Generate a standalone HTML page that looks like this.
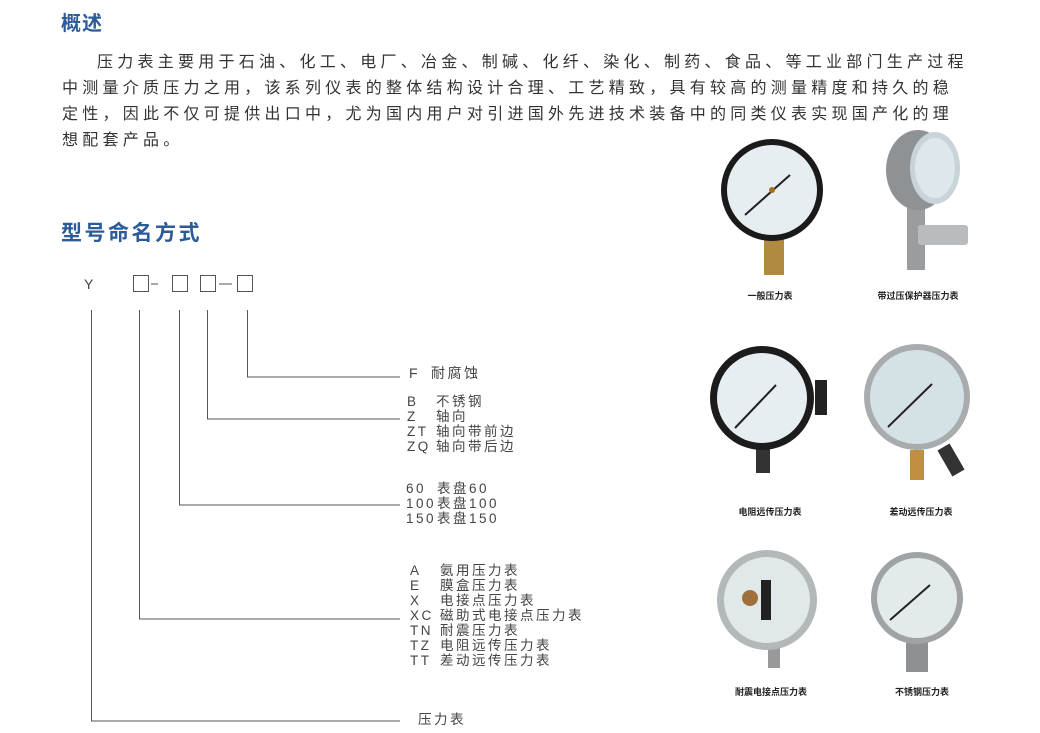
<!DOCTYPE html>
<html><head><meta charset="utf-8"><style>
html,body{margin:0;padding:0;background:#fff;}
body{width:1040px;height:733px;position:relative;overflow:hidden;font-family:"Liberation Sans","Noto Sans CJK SC",sans-serif;}
.h{position:absolute;color:#2b5c99;font-weight:bold;font-family:"Noto Sans CJK SC",sans-serif;}
.p{position:absolute;left:62px;font-size:16px;letter-spacing:4.25px;color:#333;white-space:nowrap;line-height:20px;font-family:"Noto Sans CJK SC",sans-serif;}
svg{position:absolute;left:0;top:0;}
</style></head><body>
<div class="h" style="left:61px;top:7px;font-size:20px;letter-spacing:1px;">概述</div>
<div class="p" style="top:50px;left:97px;">压力表主要用于石油、化工、电厂、冶金、制碱、化纤、染化、制药、食品、等工业部门生产过程</div>
<div class="p" style="top:76px;">中测量介质压力之用，该系列仪表的整体结构设计合理、工艺精致，具有较高的测量精度和持久的稳</div>
<div class="p" style="top:102px;">定性，因此不仅可提供出口中，尤为国内用户对引进国外先进技术装备中的同类仪表实现国产化的理</div>
<div class="p" style="top:128px;">想配套产品。</div>
<div class="h" style="left:61px;top:217px;font-size:21px;letter-spacing:2.5px;">型号命名方式</div>

<svg width="1040" height="733" viewBox="0 0 1040 733">
<g font-family="Liberation Sans, Noto Sans CJK SC, sans-serif" font-size="14" fill="#444">
<text x="84" y="289">Y</text>
<g fill="none" stroke="#555" stroke-width="1">
<rect x="133.5" y="275.5" width="15" height="16"/>
<rect x="172.5" y="275.5" width="15" height="16"/>
<rect x="200.5" y="275.5" width="15" height="16"/>
<rect x="237.5" y="275.5" width="15" height="16"/>
<line x1="151" y1="284" x2="158" y2="284"/>
<line x1="219" y1="284" x2="232" y2="284"/>
<polyline points="91.5,310 91.5,721 400,721"/>
<polyline points="139.5,310 139.5,619 400,619"/>
<polyline points="179.5,310 179.5,505 400,505"/>
<polyline points="207.5,310 207.5,419 400,419"/>
<polyline points="247.5,310 247.5,377 400,377"/>
</g>
<g letter-spacing="2.5">
<text x="409" y="378">F</text><text x="431" y="378">耐腐蚀</text>
<g font-size="13.5">
<text x="407" y="406">B</text><text x="436" y="406">不锈钢</text>
<text x="407" y="421">Z</text><text x="436" y="421">轴向</text>
<text x="407" y="436">ZT</text><text x="436" y="436">轴向带前边</text>
<text x="407" y="451">ZQ</text><text x="436" y="451">轴向带后边</text>
<text x="406" y="493">60</text><text x="437" y="493">表盘60</text>
<text x="406" y="508">100</text><text x="437" y="508">表盘100</text>
<text x="406" y="523">150</text><text x="437" y="523">表盘150</text>
<text x="410" y="575">A</text><text x="440" y="575">氨用压力表</text>
<text x="410" y="590">E</text><text x="440" y="590">膜盒压力表</text>
<text x="410" y="605">X</text><text x="440" y="605">电接点压力表</text>
<text x="410" y="620">XC</text><text x="440" y="620">磁助式电接点压力表</text>
<text x="410" y="635">TN</text><text x="440" y="635">耐震压力表</text>
<text x="410" y="650">TZ</text><text x="440" y="650">电阻远传压力表</text>
<text x="410" y="665">TT</text><text x="440" y="665">差动远传压力表</text>
<text x="418" y="724">压力表</text>
</g>
</g>
</g>

<g>
<rect x="764" y="235" width="20" height="40" fill="#b08a40"/>
<circle cx="772" cy="190" r="51" fill="#1a1a1a"/>
<circle cx="772" cy="190" r="45" fill="#e6eef2"/>
<line x1="745" y1="215" x2="790" y2="175" stroke="#222" stroke-width="2"/>
<circle cx="772" cy="190" r="3" fill="#a07020"/>
<rect x="907" y="205" width="18" height="65" fill="#9a9c9e"/>
<rect x="918" y="225" width="50" height="20" rx="3" fill="#b9bcbf"/>
<ellipse cx="918" cy="170" rx="32" ry="40" fill="#8f9295"/>
<ellipse cx="935" cy="168" rx="25" ry="36" fill="#c8d4d8"/>
<ellipse cx="935" cy="168" rx="20" ry="30" fill="#dce8ec"/>
<rect x="815" y="380" width="12" height="35" fill="#222"/>
<rect x="756" y="445" width="14" height="28" fill="#333"/>
<circle cx="762" cy="398" r="52" fill="#1c1c1c"/>
<circle cx="762" cy="398" r="45" fill="#e6eef2"/>
<line x1="735" y1="428" x2="776" y2="385" stroke="#222" stroke-width="2"/>
<rect x="910" y="450" width="14" height="30" fill="#c09040"/>
<rect x="944" y="445" width="14" height="30" fill="#333" transform="rotate(-30 951 460)"/>
<circle cx="917" cy="397" r="53" fill="#a8acae"/>
<circle cx="917" cy="397" r="47" fill="#d4e2e6"/>
<line x1="888" y1="427" x2="932" y2="384" stroke="#222" stroke-width="2"/>
<rect x="768" y="648" width="12" height="20" fill="#999"/>
<circle cx="767" cy="600" r="50" fill="#b3b8ba"/>
<circle cx="767" cy="600" r="43" fill="#e0e8ea"/>
<rect x="761" y="580" width="10" height="40" fill="#222"/>
<circle cx="750" cy="598" r="8" fill="#a0703a"/>
<rect x="906" y="640" width="22" height="32" fill="#8e9194"/>
<circle cx="917" cy="598" r="46" fill="#9fa3a5"/>
<circle cx="917" cy="598" r="40" fill="#e2eaec"/>
<line x1="890" y1="620" x2="930" y2="585" stroke="#222" stroke-width="2"/>
</g>
<g font-family="Noto Sans CJK SC, sans-serif" font-size="9" fill="#222" text-anchor="middle" font-weight="bold">
<text x="770" y="299">一般压力表</text>
<text x="918" y="299">带过压保护器压力表</text>
<text x="770" y="515">电阻远传压力表</text>
<text x="921" y="515">差动远传压力表</text>
<text x="771" y="695">耐震电接点压力表</text>
<text x="922" y="695">不锈钢压力表</text>
</g>
</svg>
</body></html>
